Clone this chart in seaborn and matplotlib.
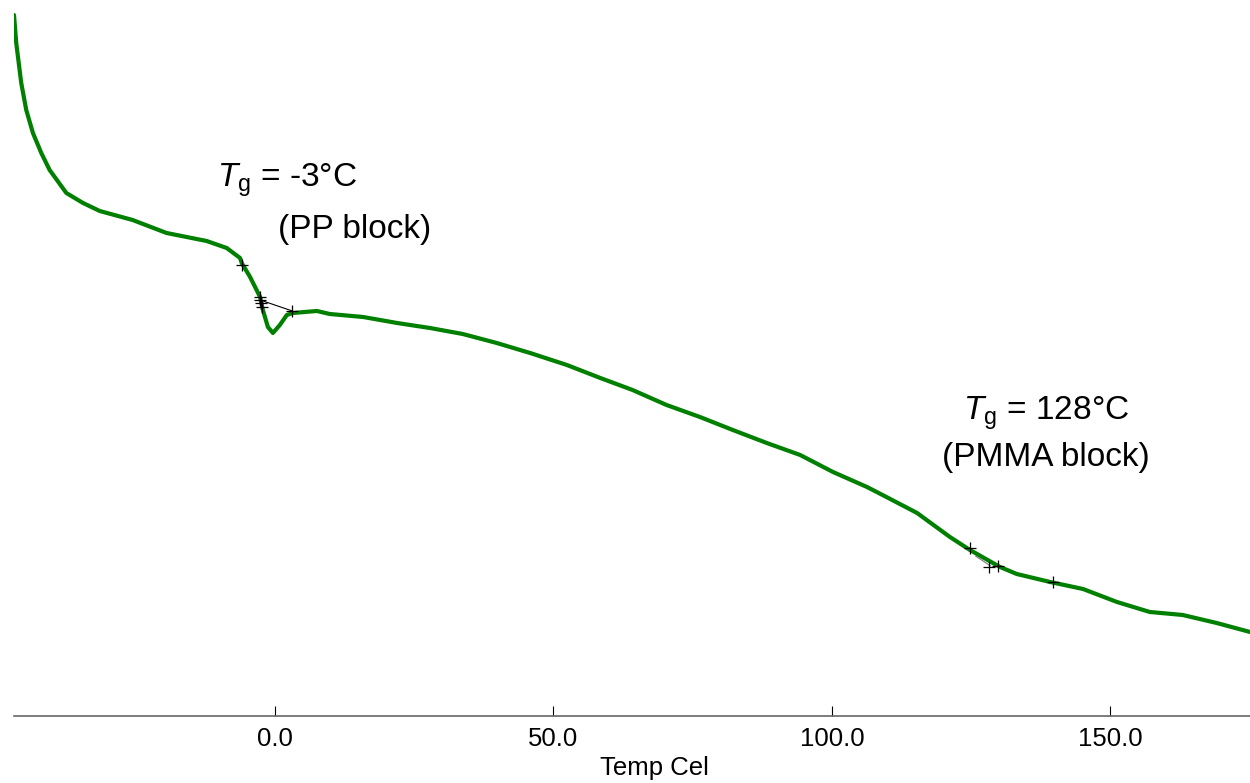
# DSC thermogram of PP-b-PMMA

import numpy as np
import pandas as pd
import matplotlib
matplotlib.use("Agg")
import matplotlib.pyplot as plt
import seaborn as sns

# Data

temp = [-46.9, -46.5, -45.6, -44.7, -43.5, -42.0, -40.5, -37.5, -34.5, -31.5,
        -25.6, -19.5, -12.3, -8.7, -6.3, -6.0, -4.5, -2.7, -2.2, -1.3,
        -0.4, 0.85, 2.1, 3.2, 7.5, 9.8, 15.8, 21.9, 27.8, 33.7,
        39.8, 45.8, 52.4, 58.4, 64.2, 70.3, 76.3, 82.2, 88.3, 94.3,
        100.2, 106.3, 109.1, 115.3, 121.2, 124.8, 130.2, 133.2, 139.2, 145.1,
        151.2, 157.1, 163.0, 169.1, 175.1]

heat_flow = [7.01, 6.73, 6.33, 6.06, 5.83, 5.63, 5.46, 5.23, 5.13, 5.05,
             4.96, 4.83, 4.75, 4.68, 4.58, 4.53, 4.39, 4.19, 4.06, 3.89,
             3.83, 3.91, 4.01, 4.03, 4.05, 4.02, 3.99, 3.93, 3.88, 3.82,
             3.73, 3.63, 3.51, 3.38, 3.26, 3.11, 2.99, 2.86, 2.73, 2.61,
             2.44, 2.29, 2.21, 2.03, 1.79, 1.66, 1.49, 1.42, 1.34, 1.27,
             1.14, 1.04, 1.01, 0.93, 0.84]

# Analysis marks (Tg construction points)
pp_mark_t = [-6.0, -2.7, -2.65, -2.6, -2.4, 3.1]
pp_mark_h = [4.51, 4.19, 4.16, 4.13, 4.09, 4.05]
pp_tangent_t = [-2.7, 3.1]
pp_tangent_h = [4.16, 4.05]

pmma_mark_t = [124.8, 128.2, 129.8, 139.7]
pmma_mark_h = [1.68, 1.49, 1.50, 1.34]
pmma_tangent_t = [125.8, 128.5]
pmma_tangent_h = [1.60, 1.50]

x_ticks = [0.0, 50.0, 100.0, 150.0]

df = pd.DataFrame({"Temp": temp, "Heat": heat_flow})

# Plot

sns.set_style("white")
plt.rcParams["font.family"] = ["Liberation Sans", "DejaVu Sans"]
plt.rcParams["mathtext.fontset"] = "custom"
plt.rcParams["mathtext.rm"] = "Liberation Sans"
plt.rcParams["mathtext.it"] = "Liberation Sans:italic"
plt.rcParams["text.color"] = "black"
plt.rcParams["axes.labelcolor"] = "black"
plt.rcParams["xtick.color"] = "black"

fig = plt.figure(figsize=(12.5, 7.83), dpi=100)
ax = fig.add_axes([0.0112, 0.0856, 0.9888, 0.9144])

sns.lineplot(
    data=df,
    x="Temp",
    y="Heat",
    color="#008000",
    linewidth=3,
    estimator=None,
    ax=ax
)

ax.plot(pp_tangent_t, pp_tangent_h, color="black", linewidth=0.8)
ax.plot(pmma_tangent_t, pmma_tangent_h, color="#777777", linewidth=0.8)

ax.plot(pp_mark_t, pp_mark_h, linestyle="none", marker="+",
        color="black", markersize=8, markeredgewidth=0.9)
ax.plot(pmma_mark_t, pmma_mark_h, linestyle="none", marker="+",
        color="black", markersize=8, markeredgewidth=0.9)

# Annotations

ax.text(-10.5, 5.29, r"$T_\mathrm{g}$ = -3°C", fontsize=24,
        ha="left", va="baseline", color="black")
ax.text(0.5, 4.78, "(PP block)", fontsize=24, ha="left", va="baseline",
        color="black")
ax.text(123.5, 2.96, r"$T_\mathrm{g}$ = 128°C", fontsize=24,
        ha="left", va="baseline", color="black")
ax.text(119.7, 2.50, "(PMMA block)", fontsize=24, ha="left", va="baseline",
        color="black")

# Axes styling

ax.set_xlim(-46.9, 175.1)
ax.set_ylim(0, 7.16)

ax.set_xticks(x_ticks)
ax.set_xticklabels([f"{t:.1f}" for t in x_ticks])
ax.set_yticks([])

ax.tick_params(axis="x", bottom=True, direction="in", length=7, width=0.8,
               color="black", labelcolor="black", labelsize=18.5, pad=8)

for side in ["top", "right", "left"]:
    ax.spines[side].set_visible(False)
ax.spines["bottom"].set_color("#666666")
ax.spines["bottom"].set_linewidth(1.2)

ax.set_xlabel("Temp Cel", fontsize=18.5, color="black")
ax.set_ylabel("")
ax.xaxis.set_label_coords(0.518, -0.056)

fig.savefig("out.png", dpi=100)
